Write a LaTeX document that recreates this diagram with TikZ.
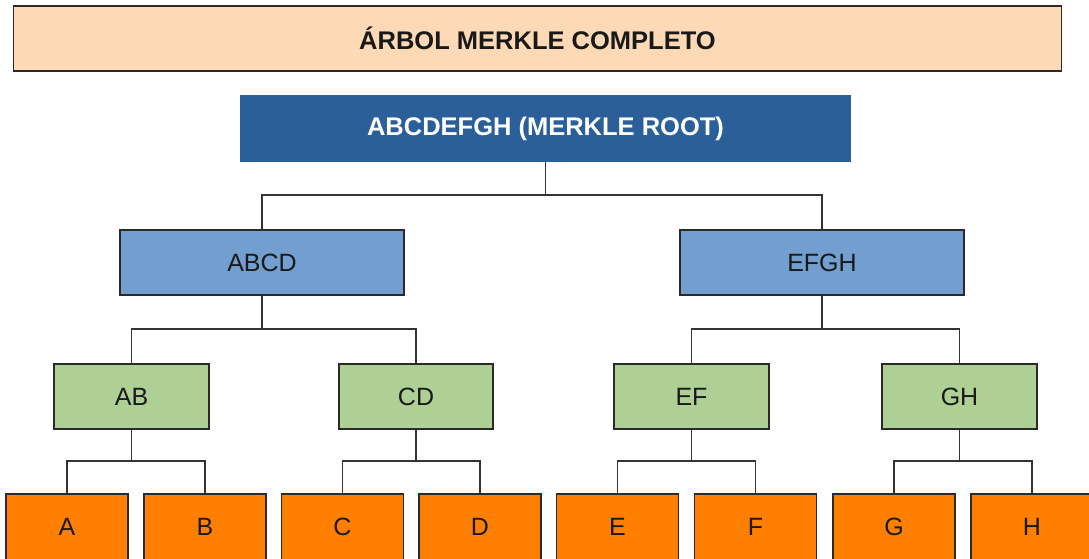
\documentclass[tikz,border=0pt]{standalone}
\usepackage{fontspec}
\setmainfont{Liberation Sans}
\definecolor{titlefill}{HTML}{FDD9B5}
\definecolor{rootfill}{HTML}{2B5F99}
\definecolor{midfill}{HTML}{729FCF}
\definecolor{pairfill}{HTML}{AFD095}
\definecolor{leaffill}{HTML}{FF8000}
\definecolor{edgecol}{HTML}{333333}
\definecolor{bordercol}{HTML}{2A2A2A}
\begin{document}
\begin{tikzpicture}[x=1pt,y=-1pt,
  box/.style={draw=bordercol,line width=1.3pt,inner sep=0pt,minimum height=65pt,
    font=\fontsize{25}{30}\selectfont,text=black!90},
  titlebox/.style={box,fill=titlefill,minimum width=1048pt,font=\fontsize{25.5}{30}\selectfont\bfseries},
  rootbox/.style={box,draw=rootfill,fill=rootfill,minimum width=609pt,text=white,font=\fontsize{25.5}{30}\selectfont\bfseries},
  midbox/.style={box,fill=midfill,minimum width=284pt},
  pairbox/.style={box,fill=pairfill,minimum width=155pt},
  leafbox/.style={box,fill=leaffill,minimum width=122pt,minimum height=66pt},
  link/.style={draw=edgecol,line width=1.1pt}]
\useasboundingbox (0,0) rectangle (1089,558);
\clip (0,0) rectangle (1089,558);
\fill[white] (0,0) rectangle (1089,558);

\node[titlebox] (title) at (537.5,38.5) {ÁRBOL MERKLE COMPLETO};
\node[rootbox] (root) at (545.5,128.5) {ABCDEFGH (MERKLE ROOT)};

\node[midbox] (abcd) at (262,262.5) {ABCD};
\node[midbox] (efgh) at (822,262.5) {EFGH};

\node[pairbox] (ab) at (131.5,396.5) {AB};
\node[pairbox,minimum width=154pt] (cd) at (416,396.5) {CD};
\node[pairbox] (ef) at (691.5,396.5) {EF};
\node[pairbox] (gh) at (959.5,396.5) {GH};

\node[leafbox] (a) at (67,527) {A};
\node[leafbox] (b) at (205,527) {B};
\node[leafbox] (c) at (342.5,527) {C};
\node[leafbox] (d) at (480,527) {D};
\node[leafbox] (e) at (617.5,527) {E};
\node[leafbox] (f) at (755.5,527) {F};
\node[leafbox] (g) at (894,527) {G};
\node[leafbox] (h) at (1032,527) {H};

\coordinate (j0) at (545.5,195);
\coordinate (j1) at (262,329);
\coordinate (j2) at (822,329);
\coordinate (j3) at (131.5,461);
\coordinate (j4) at (416,461);
\coordinate (j5) at (691.5,461);
\coordinate (j6) at (959.5,461);

\path[link] (root.south) -- (j0) (j0) -| (abcd.north) (j0) -| (efgh.north);
\path[link] (abcd.south) -- (j1) (j1) -| (ab.north) (j1) -| (cd.north);
\path[link] (efgh.south) -- (j2) (j2) -| (ef.north) (j2) -| (gh.north);
\path[link] (ab.south) -- (j3) (j3) -| (a.north) (j3) -| (b.north);
\path[link] (cd.south) -- (j4) (j4) -| (c.north) (j4) -| (d.north);
\path[link] (ef.south) -- (j5) (j5) -| (e.north) (j5) -| (f.north);
\path[link] (gh.south) -- (j6) (j6) -| (g.north) (j6) -| (h.north);
\end{tikzpicture}
\end{document}
